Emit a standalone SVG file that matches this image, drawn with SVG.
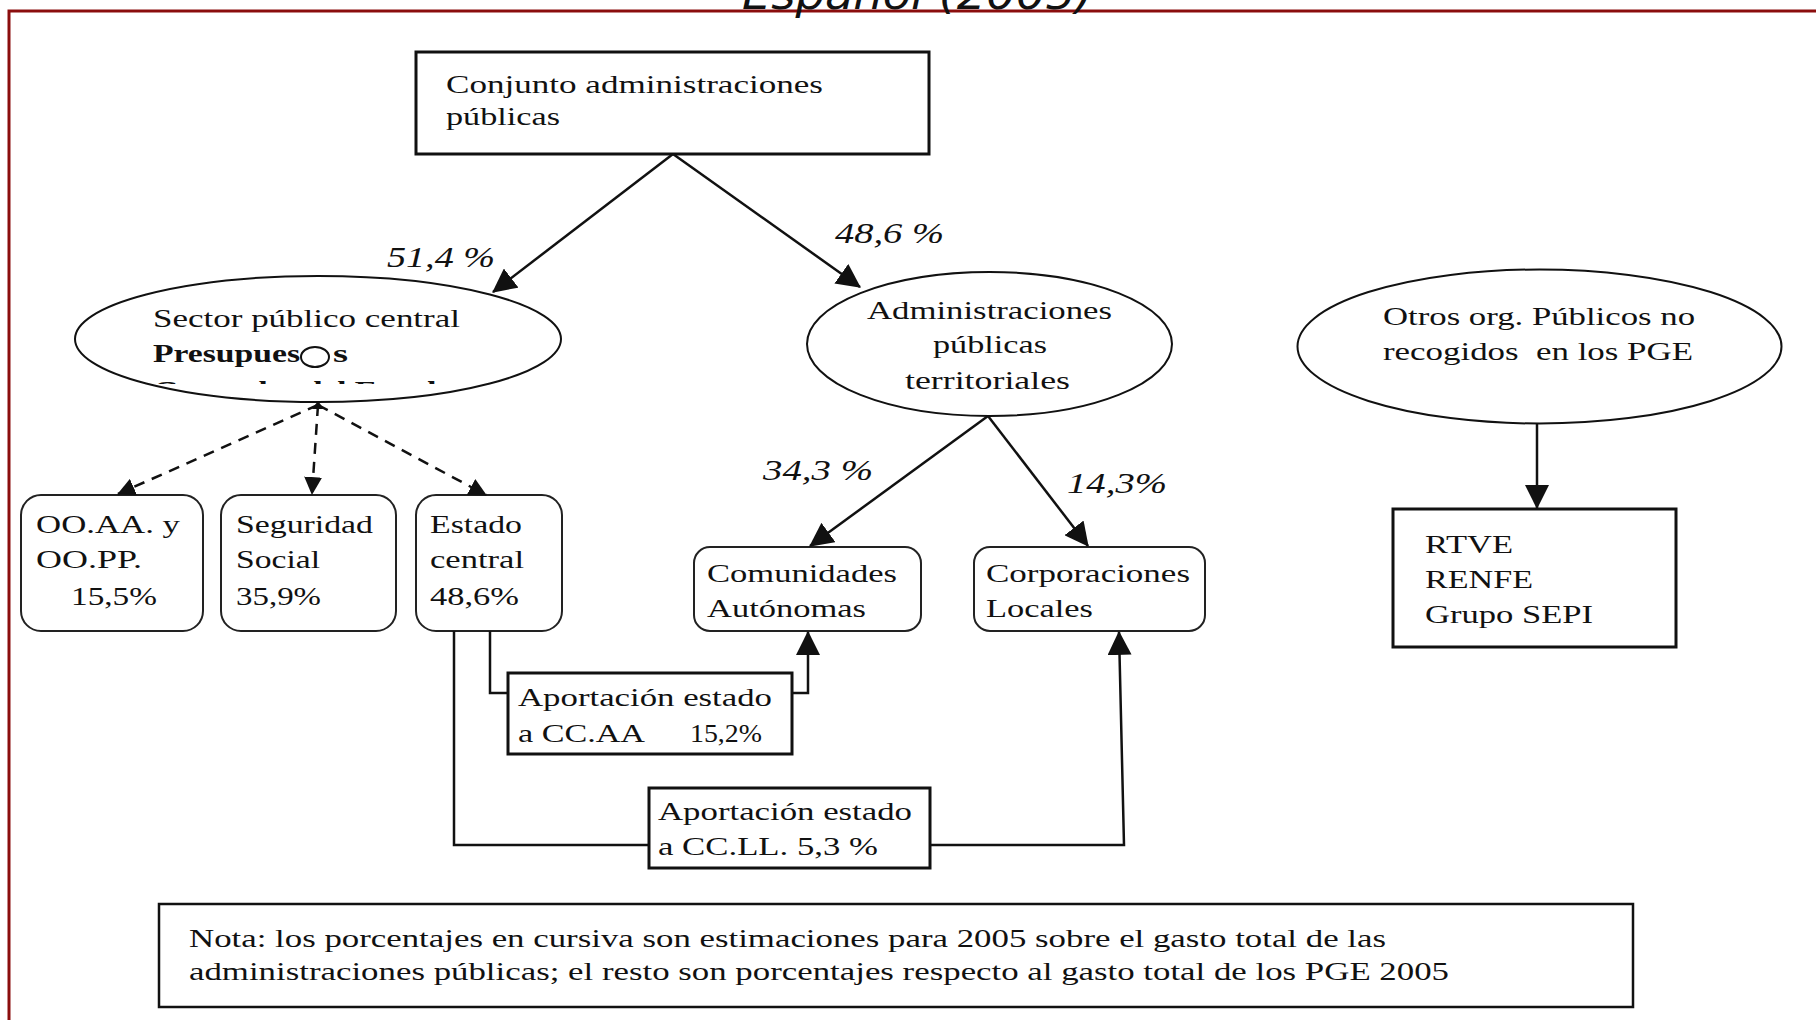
<svg xmlns="http://www.w3.org/2000/svg" width="1816" height="1020" viewBox="0 0 1816 1020">
<style>
.t{font-family:"Liberation Serif","Times New Roman",serif;font-size:26px;fill:#111}
.i{font-style:italic;font-size:30px}
.b{font-weight:bold}
.box{fill:#fff;stroke:#111;stroke-width:3}
.rbox{fill:#fff;stroke:#222;stroke-width:2}
.ell{fill:#fff;stroke:#111;stroke-width:2}
.conn{fill:none;stroke:#111;stroke-width:2.5}
.dash{stroke-dasharray:11 8}
</style>
<defs>
<marker id="ah" markerUnits="userSpaceOnUse" markerWidth="24" markerHeight="24" viewBox="0 0 22 22" refX="21" refY="11" orient="auto">
<path d="M0,0 L22,11 L0,22 z" fill="#111"/>
</marker>
<marker id="ahs" markerUnits="userSpaceOnUse" markerWidth="18" markerHeight="18" viewBox="0 0 18 18" refX="17" refY="9" orient="auto">
<path d="M0,0 L18,9 L0,18 z" fill="#111"/>
</marker>
<clipPath id="clip3"><rect x="140" y="370" width="340" height="14"/></clipPath>
</defs>
<rect x="0" y="0" width="1816" height="1020" fill="#fff"/>
<rect x="9" y="11" width="1840" height="1040" fill="none" stroke="#8b0e0e" stroke-width="3"/>
<text x="742" y="9" font-family="DejaVu Sans, sans-serif" font-style="italic" font-size="42" fill="#111" textLength="351" lengthAdjust="spacingAndGlyphs">Español (2005)</text>

<g id="node-conjunto">
<rect class="box" x="416" y="52" width="513" height="102"/>
<text class="t" x="446" y="93" textLength="377" lengthAdjust="spacingAndGlyphs">Conjunto administraciones</text>
<text class="t" x="446" y="125" textLength="114" lengthAdjust="spacingAndGlyphs">públicas</text>
</g>

<g id="node-sector">
<ellipse class="ell" cx="318" cy="339" rx="243" ry="63"/>
<text class="t" x="153" y="327" textLength="307" lengthAdjust="spacingAndGlyphs">Sector público central</text>
<text class="t b" x="153" y="362" textLength="147" lengthAdjust="spacingAndGlyphs">Presupues</text>
<ellipse cx="315" cy="357" rx="14" ry="10" fill="#fff" stroke="#111" stroke-width="2"/>
<text class="t b" x="333" y="362" textLength="15" lengthAdjust="spacingAndGlyphs">s</text>
<text class="t b" x="153" y="399" textLength="300" lengthAdjust="spacingAndGlyphs" clip-path="url(#clip3)">Generales del Estado</text>
</g>

<g id="node-territoriales">
<ellipse class="ell" cx="989.5" cy="344" rx="182.5" ry="72"/>
<text class="t" x="867" y="319" textLength="245" lengthAdjust="spacingAndGlyphs">Administraciones</text>
<text class="t" x="933" y="353" textLength="114" lengthAdjust="spacingAndGlyphs">públicas</text>
<text class="t" x="905" y="389" textLength="165" lengthAdjust="spacingAndGlyphs">territoriales</text>
</g>

<g id="node-otros">
<ellipse class="ell" cx="1539.5" cy="346.5" rx="242" ry="77"/>
<text class="t" x="1383" y="325" textLength="312" lengthAdjust="spacingAndGlyphs">Otros org. Públicos no</text>
<text class="t" x="1383" y="360" textLength="310" lengthAdjust="spacingAndGlyphs" xml:space="preserve">recogidos  en los PGE</text>
</g>

<g id="node-ooaa">
<rect class="rbox" x="21" y="495" width="182" height="136" rx="20"/>
<text class="t" x="36" y="533" textLength="144" lengthAdjust="spacingAndGlyphs">OO.AA. y</text>
<text class="t" x="36" y="568" textLength="106" lengthAdjust="spacingAndGlyphs">OO.PP.</text>
<text class="t" x="71" y="605" textLength="86" lengthAdjust="spacingAndGlyphs">15,5%</text>
</g>

<g id="node-seguridad">
<rect class="rbox" x="221" y="495" width="175" height="136" rx="20"/>
<text class="t" x="236" y="533" textLength="137" lengthAdjust="spacingAndGlyphs">Seguridad</text>
<text class="t" x="236" y="568" textLength="84" lengthAdjust="spacingAndGlyphs">Social</text>
<text class="t" x="236" y="605" textLength="85" lengthAdjust="spacingAndGlyphs">35,9%</text>
</g>

<g id="node-estado">
<rect class="rbox" x="416" y="495" width="146" height="136" rx="20"/>
<text class="t" x="430" y="533" textLength="92" lengthAdjust="spacingAndGlyphs">Estado</text>
<text class="t" x="430" y="568" textLength="94" lengthAdjust="spacingAndGlyphs">central</text>
<text class="t" x="430" y="605" textLength="89" lengthAdjust="spacingAndGlyphs">48,6%</text>
</g>

<g id="node-comunidades">
<rect class="rbox" x="694" y="547" width="227" height="84" rx="16"/>
<text class="t" x="707" y="582" textLength="190" lengthAdjust="spacingAndGlyphs">Comunidades</text>
<text class="t" x="707" y="617" textLength="159" lengthAdjust="spacingAndGlyphs">Autónomas</text>
</g>

<g id="node-corporaciones">
<rect class="rbox" x="974" y="547" width="231" height="84" rx="16"/>
<text class="t" x="986" y="582" textLength="204" lengthAdjust="spacingAndGlyphs">Corporaciones</text>
<text class="t" x="986" y="617" textLength="107" lengthAdjust="spacingAndGlyphs">Locales</text>
</g>

<g id="node-rtve">
<rect class="box" x="1393" y="509" width="283" height="138"/>
<text class="t" x="1425" y="553" textLength="88" lengthAdjust="spacingAndGlyphs">RTVE</text>
<text class="t" x="1425" y="588" textLength="108" lengthAdjust="spacingAndGlyphs">RENFE</text>
<text class="t" x="1425" y="623" textLength="168" lengthAdjust="spacingAndGlyphs">Grupo SEPI</text>
</g>

<g id="node-aport-ccaa">
<rect class="box" x="508" y="673" width="284" height="81"/>
<text class="t" x="518" y="706" textLength="254" lengthAdjust="spacingAndGlyphs">Aportación estado</text>
<text class="t" x="518" y="742" textLength="127" lengthAdjust="spacingAndGlyphs">a CC.AA</text>
<text class="t" x="690" y="742" font-size="28" textLength="72" lengthAdjust="spacingAndGlyphs">15,2%</text>
</g>

<g id="node-aport-ccll">
<rect class="box" x="649" y="788" width="281" height="80"/>
<text class="t" x="658" y="820" textLength="254" lengthAdjust="spacingAndGlyphs">Aportación estado</text>
<text class="t" x="658" y="855" textLength="220" lengthAdjust="spacingAndGlyphs">a CC.LL. 5,3 %</text>
</g>

<g id="node-nota">
<rect x="159" y="904" width="1474" height="103" fill="#fff" stroke="#111" stroke-width="2.5"/>
<text class="t" x="189" y="947" font-size="28" textLength="1197" lengthAdjust="spacingAndGlyphs">Nota: los porcentajes en cursiva son estimaciones para 2005 sobre el gasto total de las</text>
<text class="t" x="189" y="980" font-size="28" textLength="1260" lengthAdjust="spacingAndGlyphs">administraciones públicas; el resto son porcentajes respecto al gasto total de los PGE 2005</text>
</g>

<g id="connectors">
<line class="conn" x1="673" y1="154" x2="493" y2="292" marker-end="url(#ah)"/>
<line class="conn" x1="673" y1="154" x2="860" y2="287" marker-end="url(#ah)"/>
<path d="M318,401 L312,409 L324,409 z" fill="#111"/>
<line class="conn dash" x1="318" y1="405" x2="118" y2="494" marker-end="url(#ahs)"/>
<line class="conn dash" x1="318" y1="405" x2="312" y2="494" marker-end="url(#ahs)"/>
<line class="conn dash" x1="318" y1="405" x2="486" y2="495" marker-end="url(#ahs)"/>
<line class="conn" x1="988" y1="416" x2="810" y2="546" marker-end="url(#ah)"/>
<line class="conn" x1="988" y1="416" x2="1088" y2="546" marker-end="url(#ah)"/>
<line class="conn" x1="1537" y1="424" x2="1537" y2="508" marker-end="url(#ah)"/>
<polyline class="conn" points="490,631 490,693 508,693"/>
<polyline class="conn" points="792,693 808,693 808,632" marker-end="url(#ah)"/>
<polyline class="conn" points="454,631 454,845 649,845"/>
<polyline class="conn" points="930,845 1124,845 1119,632" marker-end="url(#ah)"/>
<text class="t i" x="387" y="267" textLength="108" lengthAdjust="spacingAndGlyphs">51,4 %</text>
<text class="t i" x="835" y="243" textLength="109" lengthAdjust="spacingAndGlyphs">48,6 %</text>
<text class="t i" x="763" y="480" textLength="110" lengthAdjust="spacingAndGlyphs">34,3 %</text>
<text class="t i" x="1067" y="493" textLength="100" lengthAdjust="spacingAndGlyphs">14,3%</text>
</g>
</svg>
